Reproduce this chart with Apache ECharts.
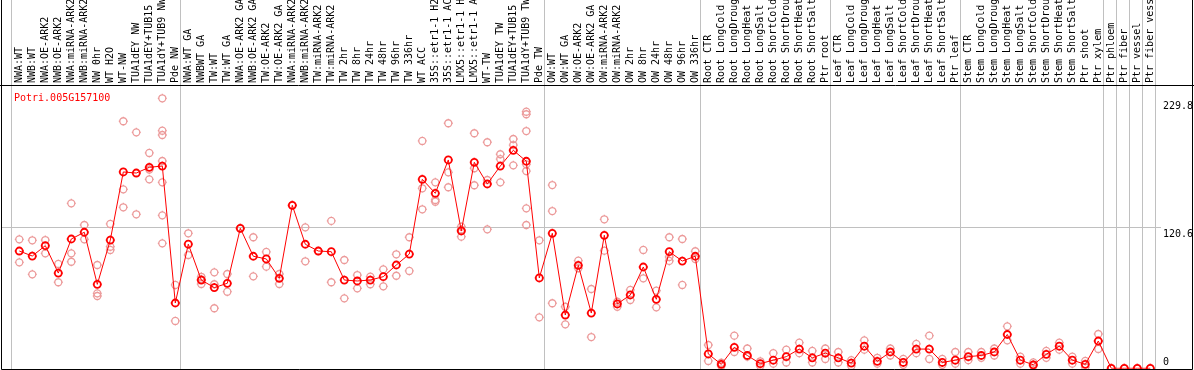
<!DOCTYPE html>
<html>
<head>
<meta charset="utf-8">
<script src="https://cdn.jsdelivr.net/npm/echarts@6/dist/echarts.min.js"></script>
<style>
html,body{margin:0;padding:0;background:#fff;}
#chart{width:1194px;height:370px;}
</style>
</head>
<body>
<div id="chart"></div>
<script>
const geneTitle = 'Potri.005G157100';
const categories = [
  'NWA:WT','NWB:WT','NWA:OE-ARK2','NWB:OE-ARK2','NWA:miRNA-ARK2','NWB:miRNA-ARK2','NW 0hr','WT H2O','WT-NW',
  'TUA1dEY NW','TUA1dEY+TUB15 NW','TUA1dY+TUB9 NW','Pde NW',
  'NWA:WT GA','NWBWT GA','TW:WT','TW:WT GA','NWA:OE-ARK2 GA','NWB:OE-ARK2 GA','TW:OE-ARK2','TW:OE-ARK2 GA',
  'NWA:miRNA-ARK2 GA','NWB:miRNA-ARK2 GA','TW:miRNA-ARK2','TW:miRNA-ARK2 GA','TW 2hr','TW 8hr','TW 24hr','TW 48hr','TW 96hr','TW 336hr',
  'WT ACC','35S::etr1-1 H2O','35S::etr1-1 ACC','LMX5::etr1-1 H2O','LMX5::etr1-1 ACC','WT-TW',
  'TUA1dEY TW','TUA1dEY+TUB15 TW','TUA1dY+TUB9 TW','Pde TW',
  'OW:WT','OW:WT GA','OW:OE-ARK2','OW:OE-ARK2 GA','OW:miRNA-ARK2','OW:miRNA-ARK2 GA',
  'OW 2hr','OW 8hr','OW 24hr','OW 48hr','OW 96hr','OW 336hr',
  'Root CTR','Root LongCold','Root LongDrought','Root LongHeat','Root LongSalt','Root ShortCold','Root ShortDrought','Root ShortHeat','Root ShortSalt','Ptr root',
  'Leaf CTR','Leaf LongCold','Leaf LongDrought','Leaf LongHeat','Leaf LongSalt','Leaf ShortCold','Leaf ShortDrought','Leaf ShortHeat','Leaf ShortSalt','Ptr leaf',
  'Stem CTR','Stem LongCold','Stem LongDrought','Stem LongHeat','Stem LongSalt','Stem ShortCold','Stem ShortDrought','Stem ShortHeat','Stem ShortSalt','Ptr shoot',
  'Ptr xylem','Ptr phloem','Ptr fiber','Ptr vessel','Ptr fiber vessel'
];
// indices of categories that start a new group (separator drawn before them)
const groupStarts = [0, 13, 41, 53, 63, 73, 84, 85, 86, 87];
const meanValues = [
  100.6, 96.3, 105.2, 81.7, 110.9, 116.7, 72.0, 110.0, 168.4, 167.5, 172.4, 173.5, 56.0,
  106.5, 75.7, 69.2, 72.9, 120.1, 96.1, 93.8, 77.2, 139.8, 106.4, 100.6, 100.0, 75.7, 74.9, 75.7, 78.6, 88.6, 98.0,
  162.1, 150.1, 178.7, 117.8, 176.7, 158.1, 173.5, 187.0, 177.6, 77.5,
  115.8, 45.7, 88.3, 47.4, 114.1, 55.2, 62.9, 86.9, 59.2, 100.0, 92.0, 96.1,
  12.3, 3.4, 18, 11, 4, 7, 10, 16.5, 9, 13,
  9, 4.5, 19, 6, 14, 5, 16.5, 16.5, 5, 7,
  10, 11, 14, 29, 7, 3, 12, 19, 7, 3.4, 23.4, 0, 0, 0, 0
];
const replicateValues = [
  [110.6, 90.9], [109.8, 80.6], [110.0, 98.6], [89.5, 73.8], [141.5, 98.6, 91.4], [122.9, 110.6],
  [88.6, 64.3, 62.0], [123.8, 104.3, 101.5], [211.9, 153.5, 138.1], [202.4, 132.1], [184.7, 170.5, 162.1],
  [231.6, 203.8, 200.1, 177.8, 159.5, 131.2, 107.2], [71.5, 40.6],
  [115.8, 97.2], [78.5, 72.3, 76.3], [82.3, 72.1, 51.5], [80.9, 65.7], [120.1], [112.4, 78.9], [99.8, 87.2],
  [80.9, 72.3], [139.8], [120.9, 91.8], [100.6], [126.4, 73.8], [92.9, 60.0], [80.0, 68.6], [78.6, 72.1],
  [84.9, 70.3], [97.8, 79.4], [112.4, 83.5], [195.0, 154.4, 136.4], [159.5, 144.4, 142.9], [210.2, 168.1, 155.3],
  [121.5, 119, 112.9], [201.6, 171.6, 157.0], [193.9, 161.5, 119.2], [183.6, 179.5, 159.5], [196.7, 191.5, 174.1],
  [220.1, 217.9, 203.5, 175.0, 169.2, 137.2, 122.9], [109.8, 43.7],
  [157.2, 134.9, 55.8], [52.8, 37.7], [92.3, 85.8], [68.0, 26.8], [127.8, 100.9], [57.1, 52.8], [67.2, 58.6],
  [101.5, 77.2], [66.6, 52.3], [112.4, 95.5, 92.1], [110.9, 71.5], [100.4, 93.8],
  [20.0, 6.3], [4.8, 2.0], [28, 14], [17, 10], [6, 2], [13, 4], [16, 5], [22, 13], [15, 5], [17, 8],
  [14, 5], [7, 2], [24, 16], [9, 4], [17, 11], [8, 3], [21, 13], [28, 8], [8, 3], [14, 4],
  [14, 7], [14, 9], [17, 11], [36, 24], [10, 4], [5, 2], [15, 9], [22, 16], [10, 4], [6.3, 1],
  [29.4, 16.6], [0], [0], [0], [0]
];
const yTickValues = [0, 120.6, 229.8];
const yMax = 243;

const FONT = 'DejaVu Sans Mono';
const markerPath = 'path://M3,10 A7,7 0 1,0 17,10 A7,7 0 1,0 3,10 Z M10,1 L10,3 M10,17 L10,19 M1,10 L3,10 M17,10 L19,10';

const repPoints = [];
replicateValues.forEach((arr, i) => arr.forEach(v => repPoints.push([i, v])));

const chart = echarts.init(document.getElementById('chart'), null, {renderer: 'canvas'});
chart.setOption({
  animation: false,
  backgroundColor: '#fff',
  title: {
    text: geneTitle, left: 9, top: 88,
    textStyle: {color: '#ff0000', fontFamily: FONT, fontSize: 10, fontWeight: 'normal'}
  },
  grid: [
    {left: 12.8, right: 37.2, top: 85, bottom: 1.7, outerBoundsMode: 'none', containLabel: false},
    {left: 11.3, right: 38.7, top: 0, bottom: 1, outerBoundsMode: 'none', containLabel: false},
    {left: 1, right: 33, top: 85, bottom: 1.7, outerBoundsMode: 'none', containLabel: false}
  ],
  xAxis: [
    {
      gridIndex: 0, type: 'category', data: categories, position: 'top', boundaryGap: true,
      axisLine: {show: false}, axisTick: {show: false}, splitLine: {show: false},
      axisLabel: {interval: 0, rotate: 90, margin: 2, color: '#000', fontFamily: FONT, fontSize: 10, hideOverlap: false}
    },
    {
      gridIndex: 1, type: 'category', data: categories, boundaryGap: true,
      axisLine: {show: false}, axisTick: {show: false}, axisLabel: {show: false},
      splitLine: {show: true, interval: (idx) => groupStarts.indexOf(idx) >= 0, lineStyle: {color: '#c0c0c0', width: 1}}
    },
    {gridIndex: 2, type: 'value', show: false, min: 0, max: 1}
  ],
  yAxis: [
    {gridIndex: 0, type: 'value', min: 0, max: yMax, show: false},
    {gridIndex: 1, type: 'value', min: 0, max: 1, show: false},
    {
      gridIndex: 2, type: 'value', min: 0, max: yMax, position: 'right',
      axisLine: {show: false},
      axisTick: {show: false, customValues: yTickValues},
      axisLabel: {
        customValues: yTickValues, margin: 2, color: '#000', fontFamily: FONT, fontSize: 10,
        formatter: (v) => v === 0 ? '{b|0}' : '{t|' + v + '}',
        rich: {
          t: {padding: [13, 0, 0, 0], color: '#000', fontFamily: FONT, fontSize: 10},
          b: {padding: [0, 0, 11, 0], color: '#000', fontFamily: FONT, fontSize: 10}
        }
      },
      splitLine: {show: true, lineStyle: {color: ['rgba(0,0,0,0)', '#c0c0c0', 'rgba(0,0,0,0)'], width: 1}}
    }
  ],
  series: [
    {
      type: 'scatter', xAxisIndex: 0, yAxisIndex: 0, data: repPoints,
      symbol: markerPath, symbolSize: 9,
      itemStyle: {color: 'rgba(0,0,0,0)', borderColor: '#ec9a9a', borderWidth: 1.3, opacity: 1},
      emphasis: {disabled: true}, z: 3
    },
    {
      type: 'line', xAxisIndex: 0, yAxisIndex: 0, data: meanValues,
      symbol: markerPath, symbolSize: 9, showAllSymbol: true,
      lineStyle: {color: '#ff0000', width: 1},
      itemStyle: {color: 'rgba(0,0,0,0)', borderColor: '#ff0000', borderWidth: 1.8},
      emphasis: {disabled: true}, z: 4
    }
  ],
  graphic: [
    {type: 'rect', shape: {x: 1.5, y: -2, width: 1191, height: 371.5}, style: {fill: null, stroke: '#000', lineWidth: 1}, silent: true, z: 10},
    {type: 'line', shape: {x1: 0, y1: 85.5, x2: 1194, y2: 85.5}, style: {stroke: '#000', lineWidth: 1}, silent: true, z: 10}
  ]
});
</script>
</body>
</html>
